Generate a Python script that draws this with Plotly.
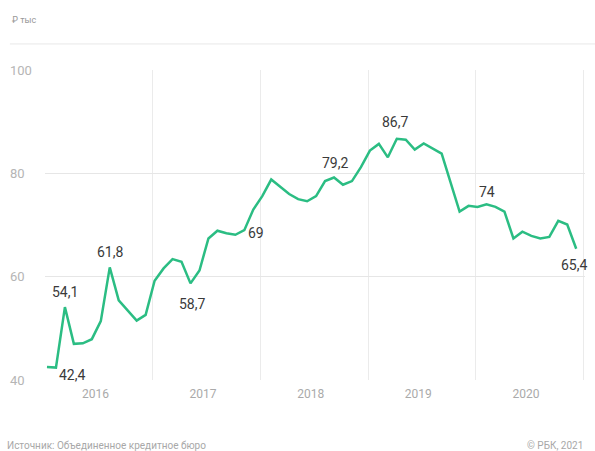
import plotly.graph_objects as go

months = [f"{y}-{m:02d}" for y in range(2016, 2021) for m in range(1, 13)]
values = [
    42.5, 42.4, 54.1, 47.0, 47.1, 47.9, 51.4, 61.8, 55.4, 53.5, 51.5, 52.6,
    59.2, 61.6, 63.4, 62.9, 58.7, 61.2, 67.4, 68.9, 68.4, 68.1, 69.0, 73.0,
    75.6, 78.8, 77.4, 76.0, 75.0, 74.6, 75.6, 78.5, 79.2, 77.8, 78.5, 81.2,
    84.4, 85.7, 83.1, 86.7, 86.5, 84.6, 85.8, 84.8, 83.8, 78.2, 72.6, 73.7,
    73.5, 74.0, 73.5, 72.6, 67.4, 68.7, 67.9, 67.4, 67.7, 70.8, 70.1, 65.4,
]
year_labels = ["2016", "2017", "2018", "2019", "2020"]
y_ticks = [40, 60, 80, 100]

# labelled points: (index, xshift, yshift)
labelled = [(1, 16, -7), (2, 0, 15), (7, 0, 15), (16, 1, -21), (22, 12, -3),
            (32, 1, 14), (39, -2, 17), (49, 0, 12), (59, -2, -16)]

x_idx = list(range(len(values)))

fig = go.Figure()
fig.add_trace(go.Scatter(
    x=x_idx, y=values, mode="lines",
    line=dict(color="#2bbd83", width=2.5, shape="linear"),
    hoverinfo="skip", showlegend=False, cliponaxis=False,
))

annotations = []
for i, dx, dy in labelled:
    annotations.append(dict(
        x=i, y=values[i], xref="x", yref="y",
        text=f"{values[i]:g}".replace(".", ","),
        showarrow=False, xshift=dx, yshift=dy,
        font=dict(size=14, color="#3a3a3a", family="Roboto"),
    ))

# y tick labels (left-aligned, as in the reference)
for t in y_ticks:
    annotations.append(dict(
        x=-0.068, y=t, xref="paper", yref="y", text=str(t),
        xanchor="left", yanchor="middle", showarrow=False,
        font=dict(size=13, color="#b5b5b5", family="Roboto"),
    ))

annotations += [
    dict(text="₽ тыс", xref="paper", yref="paper", x=-0.065, y=1.16,
         xanchor="left", yanchor="middle", showarrow=False,
         font=dict(size=9, color="#999999", family="Roboto")),
    dict(text="Источник: Объединенное кредитное бюро", xref="paper", yref="paper",
         x=-0.075, y=-0.21, xanchor="left", yanchor="middle", showarrow=False,
         font=dict(size=10, color="#a8a8a8", family="Roboto")),
    dict(text="© РБК, 2021", xref="paper", yref="paper",
         x=1.0, y=-0.21, xanchor="right", yanchor="middle", showarrow=False,
         font=dict(size=10, color="#a8a8a8", family="Roboto")),
]

shapes = [
    dict(type="line", xref="paper", yref="paper", x0=-0.065, x1=1.02,
         y0=1.084, y1=1.084, line=dict(color="#e8e8e8", width=1)),
]

fig.update_layout(
    template="none",
    width=595, height=451,
    margin=dict(l=45, r=10, t=70, b=71, autoexpand=False),
    paper_bgcolor="white", plot_bgcolor="white",
    font=dict(family="Roboto", color="#aaaaaa"),
    annotations=annotations, shapes=shapes,
    xaxis=dict(
        range=[-0.22, 59.98], automargin=False,
        tickmode="array", tickvals=[5.4 + 12 * k for k in range(5)], ticktext=year_labels,
        showgrid=False, zeroline=False, showline=False, ticks="",
        ticklabelstandoff=5,
        tickfont=dict(size=12, color="#aaaaaa"),
        minor=dict(tickmode="linear", tick0=-0.2, dtick=12, showgrid=True,
                   gridcolor="#ebebeb", gridwidth=1, ticks=""),
        fixedrange=True,
    ),
    yaxis=dict(
        range=[40, 100], automargin=False, tickvals=y_ticks,
        showgrid=True, gridcolor="#e6e6e6", gridwidth=1, zeroline=False,
        showline=False, ticks="", showticklabels=False,
        fixedrange=True,
    ),
)

fig.write_html("out.html", config={"displayModeBar": False},
               post_script="document.body.style.margin='0px';")
